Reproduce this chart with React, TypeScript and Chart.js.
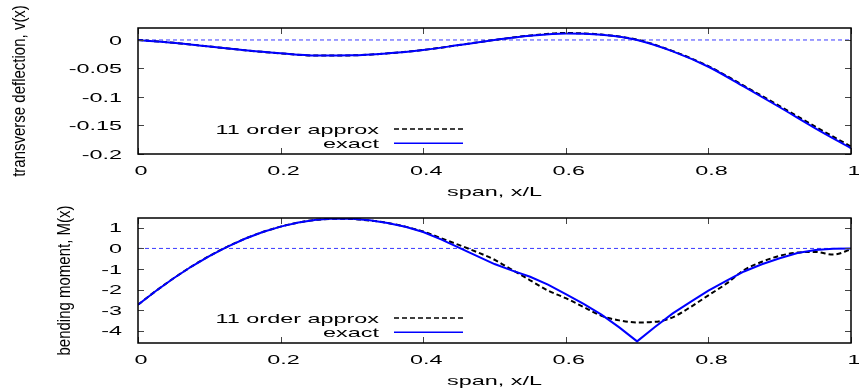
import React, { useEffect, useRef } from 'react';
import { Chart, registerables } from 'chart.js';

Chart.register(...registerables);

// ---- data ----
const deflX = [0, 0.05, 0.1, 0.15, 0.2, 0.25, 0.3, 0.35, 0.4, 0.45, 0.5, 0.55, 0.6, 0.65, 0.7, 0.75, 0.8, 0.85, 0.9, 0.95, 1];
const deflExact = [0, -0.005, -0.0115, -0.018, -0.0235, -0.0273, -0.027, -0.0235, -0.0175, -0.009, 0.0, 0.0075, 0.0115, 0.009, 0.0, -0.02, -0.047, -0.082, -0.118, -0.155, -0.19];
const deflApprox = [0, -0.005, -0.0115, -0.018, -0.0235, -0.0273, -0.027, -0.0235, -0.0175, -0.009, 0.0, 0.0078, 0.0122, 0.0095, 0.0005, -0.0195, -0.046, -0.0805, -0.116, -0.152, -0.187];

const momentX = [0, 0.025, 0.05, 0.075, 0.1, 0.125, 0.15, 0.175, 0.2, 0.225, 0.25, 0.275, 0.3, 0.325, 0.35, 0.375, 0.4, 0.425, 0.45, 0.475, 0.5, 0.525, 0.55, 0.575, 0.6, 0.625, 0.65, 0.675, 0.7, 0.725, 0.75, 0.775, 0.8, 0.825, 0.85, 0.875, 0.9, 0.925, 0.95, 0.975, 1];
const momentExact = [-2.74, -2.07, -1.45, -0.88, -0.37, 0.08, 0.47, 0.8, 1.06, 1.26, 1.39, 1.45, 1.44, 1.37, 1.24, 1.05, 0.8, 0.44, 0.04, -0.36, -0.76, -1.08, -1.38, -1.76, -2.22, -2.7, -3.22, -3.84, -4.52, -3.82, -3.16, -2.6, -2.05, -1.58, -1.12, -0.77, -0.48, -0.22, -0.08, -0.02, 0];
const momentApprox = [-2.74, -2.07, -1.45, -0.88, -0.37, 0.08, 0.47, 0.8, 1.06, 1.26, 1.39, 1.44, 1.43, 1.36, 1.24, 1.06, 0.82, 0.5, 0.17, -0.17, -0.55, -1.05, -1.55, -2.05, -2.42, -2.85, -3.28, -3.5, -3.6, -3.57, -3.35, -2.85, -2.28, -1.72, -1.05, -0.65, -0.36, -0.2, -0.17, -0.3, -0.05];

const zeroLineX = [0, 1];
const zeroLineY = [0, 0];

const xTicks = [0, 0.2, 0.4, 0.6, 0.8, 1];
const xTickLabels = ['0', '0.2', '0.4', '0.6', '0.8', '1'];
const deflTicks = [-0.2, -0.15, -0.1, -0.05, 0];
const deflTickLabels = ['-0.2', '-0.15', '-0.1', '-0.05', '0'];
const momentTicks = [-4, -3, -2, -1, 0, 1];
const momentTickLabels = ['-4', '-3', '-2', '-1', '0', '1'];

const seriesNames = ['11 order approx', 'exact'];
const xTitle = 'span, x/L';
const deflTitle = 'transverse deflection, v(x)';
const momentTitle = 'bending moment, M(x)';

const FONT = '"Liberation Sans", Arial, sans-serif';
const SX = 1.8;

function drawText(ctx: CanvasRenderingContext2D, text: string, x: number, y: number, align: CanvasTextAlign, sx: number, sy = 1, rot = 0) {
  ctx.save();
  ctx.translate(x, y);
  if (rot) ctx.rotate(rot);
  ctx.scale(sx, sy);
  ctx.textAlign = align;
  ctx.fillText(text, 0, 0);
  ctx.restore();
}

type PanelCfg = {
  yTicks: number[];
  yTickLabels: string[];
  yTitle: string;
  yTitleX: number;
};

function makePlugin(cfg: PanelCfg) {
  return {
    id: 'gnuFrame',
    afterDraw(chart: any) {
      const ctx: CanvasRenderingContext2D = chart.ctx;
      const a = chart.chartArea;
      const xs = chart.scales.x;
      const ys = chart.scales.y;
      ctx.save();
      // ticks
      ctx.strokeStyle = '#444';
      ctx.lineWidth = 1;
      ctx.setLineDash([]);
      const tl = 6;
      ctx.beginPath();
      xTicks.forEach((v) => {
        const px = Math.round(xs.getPixelForValue(v)) + 0.5;
        ctx.moveTo(px, a.bottom);
        ctx.lineTo(px, a.bottom - tl);
        ctx.moveTo(px, a.top);
        ctx.lineTo(px, a.top + tl);
      });
      cfg.yTicks.forEach((v) => {
        const py = Math.round(ys.getPixelForValue(v)) + 0.5;
        ctx.moveTo(a.left, py);
        ctx.lineTo(a.left + tl, py);
        ctx.moveTo(a.right, py);
        ctx.lineTo(a.right - tl, py);
      });
      ctx.stroke();
      // frame
      ctx.strokeStyle = '#000';
      ctx.lineWidth = 1.5;
      ctx.strokeRect(a.left, a.top, a.right - a.left, a.bottom - a.top);

      // tick labels
      ctx.fillStyle = '#000';
      ctx.font = '13px ' + FONT;
      ctx.textBaseline = 'alphabetic';
      xTicks.forEach((v, i) => {
        drawText(ctx, xTickLabels[i], xs.getPixelForValue(v) + 3, a.bottom + 21, 'center', SX);
      });
      cfg.yTicks.forEach((v, i) => {
        drawText(ctx, cfg.yTickLabels[i], a.left - 16, ys.getPixelForValue(v) + 4.6, 'right', SX);
      });
      // x title
      drawText(ctx, xTitle, (a.left + a.right) / 2, a.bottom + 41.5, 'center', SX);
      // y title
      ctx.font = '15px ' + FONT;
      ctx.textBaseline = 'middle';
      drawText(ctx, cfg.yTitle, cfg.yTitleX, (a.top + a.bottom) / 2, 'center', 1, 1.25, -Math.PI / 2);

      // legend
      ctx.font = '13px ' + FONT;
      ctx.textBaseline = 'alphabetic';
      const rows = [a.bottom - 25, a.bottom - 10.7];
      const order = [1, 0]; // dataset index: approx, exact
      order.forEach((di, r) => {
        const ds = chart.data.datasets[di];
        const y = rows[r];
        drawText(ctx, seriesNames[r], a.left + 241, y + 4.5, 'right', SX);
        ctx.beginPath();
        ctx.strokeStyle = ds.borderColor;
        ctx.lineWidth = 1.5;
        ctx.setLineDash(ds.borderDash || []);
        ctx.moveTo(a.left + 256, y);
        ctx.lineTo(a.left + 325, y);
        ctx.stroke();
      });
      ctx.restore();
    },
  };
}

function buildChart(canvas: HTMLCanvasElement, opts: {
  xVals: number[]; exact: number[]; approx: number[]; yMin: number; yMax: number;
  padding: any; cfg: PanelCfg; exactTension: number;
}) {
  const pts = (xv: number[], yv: number[]) => xv.map((x, i) => ({ x, y: yv[i] }));
  return new Chart(canvas, {
    type: 'line',
    data: {
      datasets: [
        {
          label: seriesNames[1],
          data: pts(opts.xVals, opts.exact),
          borderColor: '#0000ff',
          borderWidth: 2,
          pointRadius: 0,
          tension: opts.exactTension,
          cubicInterpolationMode: opts.exactTension > 0 ? 'monotone' : 'default',
          fill: false,
        } as any,
        {
          label: seriesNames[0],
          data: pts(opts.xVals, opts.approx),
          borderColor: '#000000',
          borderWidth: 2,
          borderDash: [5, 3],
          pointRadius: 0,
          cubicInterpolationMode: 'monotone',
          fill: false,
        } as any,
        {
          label: 'zero',
          data: pts(zeroLineX, zeroLineY),
          borderColor: '#3b3bff',
          borderWidth: 1,
          borderDash: [4, 3],
          pointRadius: 0,
          fill: false,
        } as any,
      ],
    },
    options: {
      animation: false,
      responsive: false,
      devicePixelRatio: 1,
      layout: { padding: opts.padding },
      plugins: { legend: { display: false }, tooltip: { enabled: false }, title: { display: false } },
      scales: {
        x: { type: 'linear', min: 0, max: 1, display: false },
        y: { type: 'linear', min: opts.yMin, max: opts.yMax, display: false },
      },
    } as any,
    plugins: [makePlugin(opts.cfg) as any],
  });
}

export default function App() {
  const topRef = useRef<HTMLCanvasElement>(null);
  const botRef = useRef<HTMLCanvasElement>(null);

  useEffect(() => {
    const c1 = buildChart(topRef.current!, {
      xVals: deflX, exact: deflExact, approx: deflApprox, yMin: -0.2, yMax: 0.021,
      padding: { left: 138, right: 8, top: 28, bottom: 51 },
      cfg: { yTicks: deflTicks, yTickLabels: deflTickLabels, yTitle: deflTitle, yTitleX: 20 },
      exactTension: 0.4,
    });
    const c2 = buildChart(botRef.current!, {
      xVals: momentX, exact: momentExact, approx: momentApprox, yMin: -4.6, yMax: 1.48,
      padding: { left: 138, right: 8, top: 22, bottom: 49 },
      cfg: { yTicks: momentTicks, yTickLabels: momentTickLabels, yTitle: momentTitle, yTitleX: 65 },
      exactTension: 0,
    });
    return () => { c1.destroy(); c2.destroy(); };
  }, []);

  return (
    <div style={{ position: 'fixed', left: 0, top: 0, width: 859, height: 392, background: '#fff' }}>
      <canvas ref={topRef} width={859} height={205} style={{ position: 'absolute', left: 0, top: 0, width: 859, height: 205 }} />
      <canvas ref={botRef} width={859} height={196} style={{ position: 'absolute', left: 0, top: 196, width: 859, height: 196 }} />
    </div>
  );
}
